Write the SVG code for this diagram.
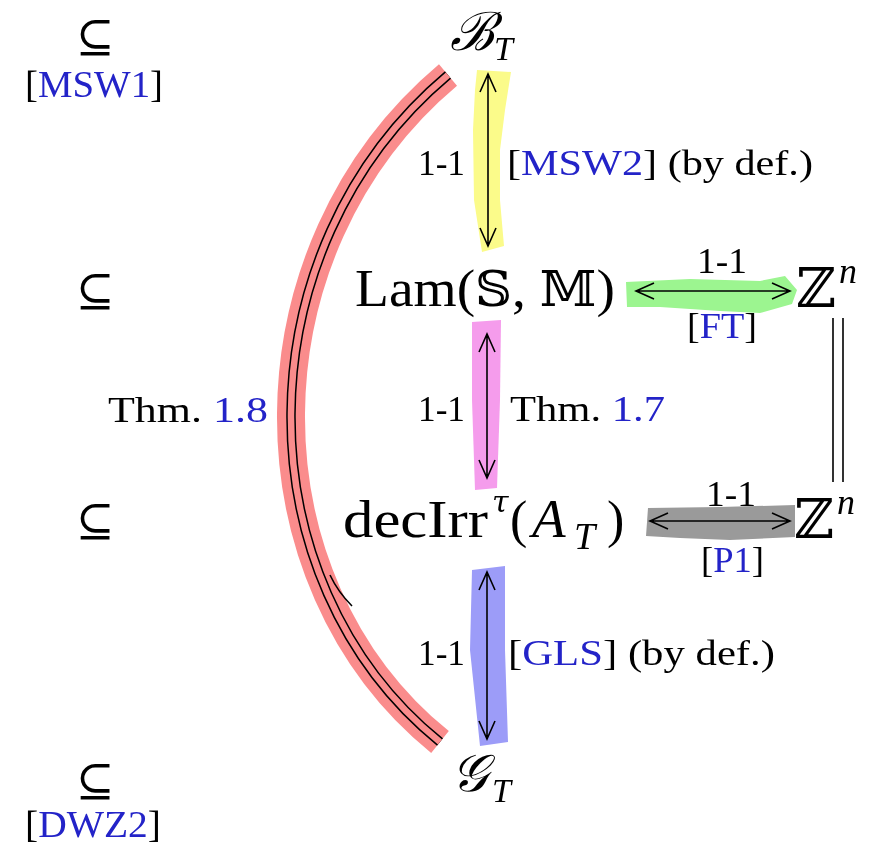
<svg xmlns="http://www.w3.org/2000/svg" width="874" height="852" viewBox="0 0 874 852">
<style>
.t{font-family:"Liberation Serif","DejaVu Serif",serif;fill:#000}
.m{font-family:"DejaVu Serif","Liberation Serif",serif;fill:#000}
.i{font-style:italic}
.b{fill:#2323c8}
.hl{mix-blend-mode:multiply}
.ln{fill:none;stroke:#000;stroke-width:1.6}
</style>
<rect width="874" height="852" fill="#fff"/>
<g id="connectors">
  <g id="red-arc">
    <path d="M448 75 C240 250 240 580 440 742" fill="none" stroke="#fa8c8c" stroke-width="28"/>
    <path d="M448 75 C240 250 240 580 440 742" fill="none" stroke="#000" stroke-width="9.5"/>
    <path d="M448 75 C240 250 240 580 440 742" fill="none" stroke="#fa8c8c" stroke-width="6.5"/>
    <path d="M330 575 Q338 592 352 606" class="ln" stroke-width="1.8"/>
  </g>
  <g id="yellow-arrow">
    <path class="ln" d="M488 74 V246 M480 92 L488 74 L496 92 M480 228 L488 246 L496 228"/>
    <polygon class="hl" fill="#fbfb8a" points="477,70 511,72 505,110 500,150 500,200 504,246 482,252 474,200 473,130 475,90"/>
  </g>
  <g id="pink-arrow">
    <path class="ln" d="M487 334 V478 M479 352 L487 334 L495 352 M479 460 L487 478 L495 460"/>
    <polygon class="hl" fill="#f59cec" points="472,322 501,320 500,400 497,488 475,490 472,400"/>
  </g>
  <g id="blue-arrow">
    <path class="ln" d="M487 572 V739 M479 590 L487 572 L495 590 M479 721 L487 739 L495 721"/>
    <polygon class="hl" fill="#9c9cf8" points="472,570 505,566 505,650 508,742 480,746 470,650"/>
  </g>
  <g id="green-arrow">
    <path class="ln" d="M636 291 H790 M654 283 L636 291 L654 299 M772 283 L790 291 L772 299"/>
    <polygon class="hl" fill="#9cf590" points="626,282 690,279 760,281 785,276 797,290 792,304 760,313 720,311 660,307 627,307"/>
  </g>
  <g id="gray-arrow">
    <path class="ln" d="M650 521 H790 M668 513 L650 521 L668 529 M772 513 L790 521 L772 529"/>
    <polygon class="hl" fill="#9a9a9a" points="648,508 720,507 795,505 795,537 730,540 680,538 646,536"/>
  </g>
  <g id="equals">
    <path class="ln" d="M833 318 V482 M843 318 V482"/>
  </g>
</g>
<g id="node-B">
  <text class="m i" x="450" y="50" font-size="53">ℬ</text>
  <text class="t i" x="494" y="60" font-size="34">T</text>
</g>
<g id="node-Lam">
  <text class="t" x="355" y="306" font-size="52" textLength="260" lengthAdjust="spacingAndGlyphs"><tspan>Lam(</tspan><tspan class="m" font-size="48">𝕊</tspan><tspan>, </tspan><tspan class="m" font-size="48">𝕄</tspan><tspan>)</tspan></text>
</g>
<g id="node-Zn1">
  <text class="m" x="796" y="307" font-size="55">ℤ</text>
  <text class="t i" x="839" y="283" font-size="36">n</text>
</g>
<g id="node-decIrr">
  <text class="t" x="343" y="537" font-size="52" textLength="145" lengthAdjust="spacingAndGlyphs">decIrr</text>
  <text class="m i" x="492" y="512" font-size="30">τ</text>
  <text class="t" x="510" y="537" font-size="52">(</text>
  <text class="t i" x="532" y="537" font-size="55">A</text>
  <text class="t i" x="574" y="549" font-size="38">T</text>
  <text class="t" x="607" y="537" font-size="52">)</text>
</g>
<g id="node-Zn2">
  <text class="m" x="794" y="538" font-size="55">ℤ</text>
  <text class="t i" x="837" y="514" font-size="36">n</text>
</g>
<g id="node-G">
  <text class="m i" x="451" y="791" font-size="52">𝒢</text>
  <text class="t i" x="492" y="802" font-size="34">T</text>
</g>
<g id="labels">
  <text class="m" x="95" y="52" font-size="46" text-anchor="middle">⊆</text>
  <text class="t" x="25" y="97" font-size="38" textLength="138" lengthAdjust="spacingAndGlyphs">[<tspan class="b">MSW1</tspan>]</text>
  <text class="m" x="95" y="306" font-size="46" text-anchor="middle">⊆</text>
  <text class="m" x="95" y="536" font-size="46" text-anchor="middle">⊆</text>
  <text class="m" x="95" y="796" font-size="46" text-anchor="middle">⊆</text>
  <text class="t" x="25" y="837" font-size="38" textLength="136" lengthAdjust="spacingAndGlyphs">[<tspan class="b">DWZ2</tspan>]</text>
  <text class="t" x="108" y="422" font-size="36" textLength="160" lengthAdjust="spacingAndGlyphs">Thm. <tspan class="b">1.8</tspan></text>
  <text class="t" x="418" y="175" font-size="36" textLength="47" lengthAdjust="spacingAndGlyphs">1-1</text>
  <text class="t" x="507" y="175" font-size="36" textLength="306" lengthAdjust="spacingAndGlyphs">[<tspan class="b">MSW2</tspan>] (by def.)</text>
  <text class="t" x="418" y="421" font-size="36" textLength="47" lengthAdjust="spacingAndGlyphs">1-1</text>
  <text class="t" x="510" y="421" font-size="36" textLength="155" lengthAdjust="spacingAndGlyphs">Thm. <tspan class="b">1.7</tspan></text>
  <text class="t" x="418" y="665" font-size="36" textLength="47" lengthAdjust="spacingAndGlyphs">1-1</text>
  <text class="t" x="508" y="665" font-size="36" textLength="267" lengthAdjust="spacingAndGlyphs">[<tspan class="b">GLS</tspan>] (by def.)</text>
  <text class="t" x="697" y="273" font-size="35" textLength="50" lengthAdjust="spacingAndGlyphs">1-1</text>
  <text class="t" x="687" y="338" font-size="35" textLength="70" lengthAdjust="spacingAndGlyphs">[<tspan class="b">FT</tspan>]</text>
  <text class="t" x="706" y="506" font-size="35" textLength="50" lengthAdjust="spacingAndGlyphs">1-1</text>
  <text class="t" x="701" y="572" font-size="35" textLength="63" lengthAdjust="spacingAndGlyphs">[<tspan class="b">P1</tspan>]</text>
</g>
</svg>
